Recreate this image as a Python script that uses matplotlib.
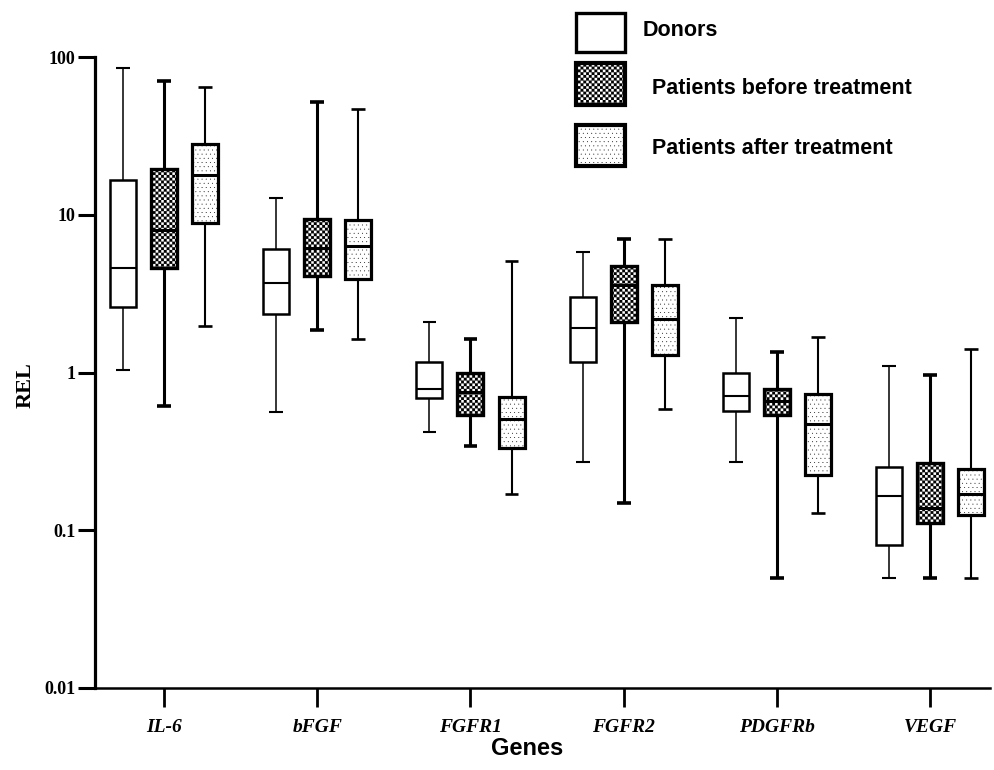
import numpy as np
import matplotlib
matplotlib.use("Agg")
import matplotlib.pyplot as plt
from matplotlib import hatch as mhatch
from matplotlib.path import Path
from matplotlib.patches import Rectangle
from matplotlib.ticker import NullLocator

genes = ["IL-6", "bFGF", "FGFR1", "FGFR2", "PDGFRb", "VEGF"]
groups = ["Donors", "Patients before treatment", "Patients after treatment"]
y_ticks = [0.01, 0.1, 1, 10, 100]
y_tick_labels = ["0.01", "0.1", "1", "10", "100"]

# box summaries (REL, log axis)
donors_whislo = [1.03, 0.565, 0.42, 0.27, 0.27, 0.05]
donors_q1 = [2.6, 2.35, 0.69, 1.17, 0.57, 0.081]
donors_med = [4.6, 3.7, 0.79, 1.92, 0.71, 0.165]
donors_q3 = [16.7, 6.1, 1.17, 3.0, 0.99, 0.252]
donors_whishi = [84.7, 12.7, 2.1, 5.8, 2.22, 1.1]

before_whislo = [0.61, 1.86, 0.34, 0.149, 0.05, 0.05]
before_q1 = [4.6, 4.1, 0.54, 2.1, 0.54, 0.111]
before_med = [8.0, 6.2, 0.75, 3.58, 0.66, 0.138]
before_q3 = [19.4, 9.4, 0.99, 4.7, 0.79, 0.266]
before_whishi = [70.3, 52.0, 1.63, 6.97, 1.35, 0.97]

after_whislo = [1.98, 1.62, 0.17, 0.59, 0.128, 0.05]
after_q1 = [8.85, 3.9, 0.33, 1.29, 0.223, 0.125]
after_med = [17.8, 6.3, 0.51, 2.17, 0.47, 0.169]
after_q3 = [27.9, 9.2, 0.70, 3.6, 0.73, 0.244]
after_whishi = [65.0, 47.0, 5.1, 7.0, 1.67, 1.41]


# checkerboard fill: the star hatch is swapped for a real checkerboard
class Checker(mhatch.HatchPatternBase):
    def __init__(self, hatch, density):
        self.n = hatch.count('*') * density
        self.num_vertices = (self.n * self.n // 2) * 5 if self.n else 0

    def set_vertices_and_codes(self, vertices, codes):
        s = 1.0 / self.n
        k = 0
        for r in range(self.n):
            for c in range(self.n):
                if (r + c) % 2:
                    continue
                x0, y0 = c * s, r * s
                vertices[k:k + 5] = [[x0, y0], [x0 + s, y0], [x0 + s, y0 + s], [x0, y0 + s], [x0, y0]]
                codes[k:k + 5] = [Path.MOVETO, Path.LINETO, Path.LINETO, Path.LINETO, Path.CLOSEPOLY]
                k += 5


mhatch._hatch_types = [Checker if t is mhatch.Stars else t for t in mhatch._hatch_types]
plt.rcParams["hatch.linewidth"] = 0.1

CHECKER = "******"
DOTS = "...."


def make_stats(whislo, q1, med, q3, whishi):
    return [dict(whislo=a, q1=b, med=c, q3=d, whishi=e, fliers=[])
            for a, b, c, d, e in zip(whislo, q1, med, q3, whishi)]


def draw_group(ax, stats, positions, box_lw, whisk_lw, med_lw, hatch=None):
    return ax.bxp(stats, positions=positions, widths=0.17, capwidths=0.09,
                  patch_artist=True, showfliers=False, manage_ticks=False,
                  boxprops=dict(facecolor="white", edgecolor="black", linewidth=box_lw, hatch=hatch),
                  whiskerprops=dict(color="black", linewidth=whisk_lw, solid_capstyle="butt"),
                  capprops=dict(color="black", linewidth=whisk_lw + 0.4, solid_capstyle="butt"),
                  medianprops=dict(color="black", linewidth=med_lw, solid_capstyle="butt", zorder=4))


fig = plt.figure(figsize=(9.94, 7.7), dpi=100)
ax = fig.add_axes([95 / 994, 1 - 688 / 770, 895 / 994, 631 / 770])

x = np.arange(len(genes))
off = 0.268
draw_group(ax, make_stats(donors_whislo, donors_q1, donors_med, donors_q3, donors_whishi),
           x - off, box_lw=1.8, whisk_lw=1.1, med_lw=1.5)
draw_group(ax, make_stats(before_whislo, before_q1, before_med, before_q3, before_whishi),
           x, box_lw=2.4, whisk_lw=2.2, med_lw=2.2, hatch=CHECKER)
draw_group(ax, make_stats(after_whislo, after_q1, after_med, after_q3, after_whishi),
           x + off, box_lw=2.3, whisk_lw=1.5, med_lw=2.2, hatch=DOTS)

ax.set_yscale("log")
ax.set_ylim(0.01, 100)
ax.set_xlim(-0.45, 5.39)
ax.set_yticks(y_ticks)
ax.set_yticklabels(y_tick_labels, fontfamily="Liberation Serif", fontweight="bold", fontsize=13)
ax.yaxis.set_minor_locator(NullLocator())
ax.set_xticks(x)
ax.set_xticklabels(genes, fontfamily="Liberation Serif", fontweight="bold", fontstyle="italic", fontsize=14)

for side in ["top", "right"]:
    ax.spines[side].set_visible(False)
ax.spines["left"].set_linewidth(2.3)
ax.spines["bottom"].set_linewidth(1.8)
ax.tick_params(axis="y", length=12, width=2.2, pad=2)
ax.tick_params(axis="x", length=14, width=2.0, pad=8)

ax.set_xlabel("Genes", fontfamily="Liberation Sans", fontweight="bold", fontsize=17)
ax.xaxis.set_label_coords(0.483, -0.077)
ax.set_ylabel("REL", fontfamily="Liberation Serif", fontweight="bold", fontsize=16)
ax.yaxis.set_label_coords(-0.066, 0.48)

# legend drawn by hand at the top right
legend_boxes = [(13, 52), (63, 105), (125, 166)]
legend_hatch = [None, CHECKER, DOTS]
legend_lw = [2.4, 3.0, 3.0]
legend_text_x = [643, 652, 652]
legend_text_y = [30, 88, 148]
for i, label in enumerate(groups):
    y0, y1 = legend_boxes[i]
    fig.patches.append(Rectangle((576 / 994, 1 - y1 / 770), 49 / 994, (y1 - y0) / 770,
                                 facecolor="white", edgecolor="black", linewidth=legend_lw[i],
                                 hatch=legend_hatch[i], transform=fig.transFigure))
    fig.text(legend_text_x[i] / 994, 1 - legend_text_y[i] / 770, label, ha="left", va="center",
             fontfamily="Liberation Sans", fontweight="bold", fontsize=15.5)

fig.savefig("out.png", dpi=100)
